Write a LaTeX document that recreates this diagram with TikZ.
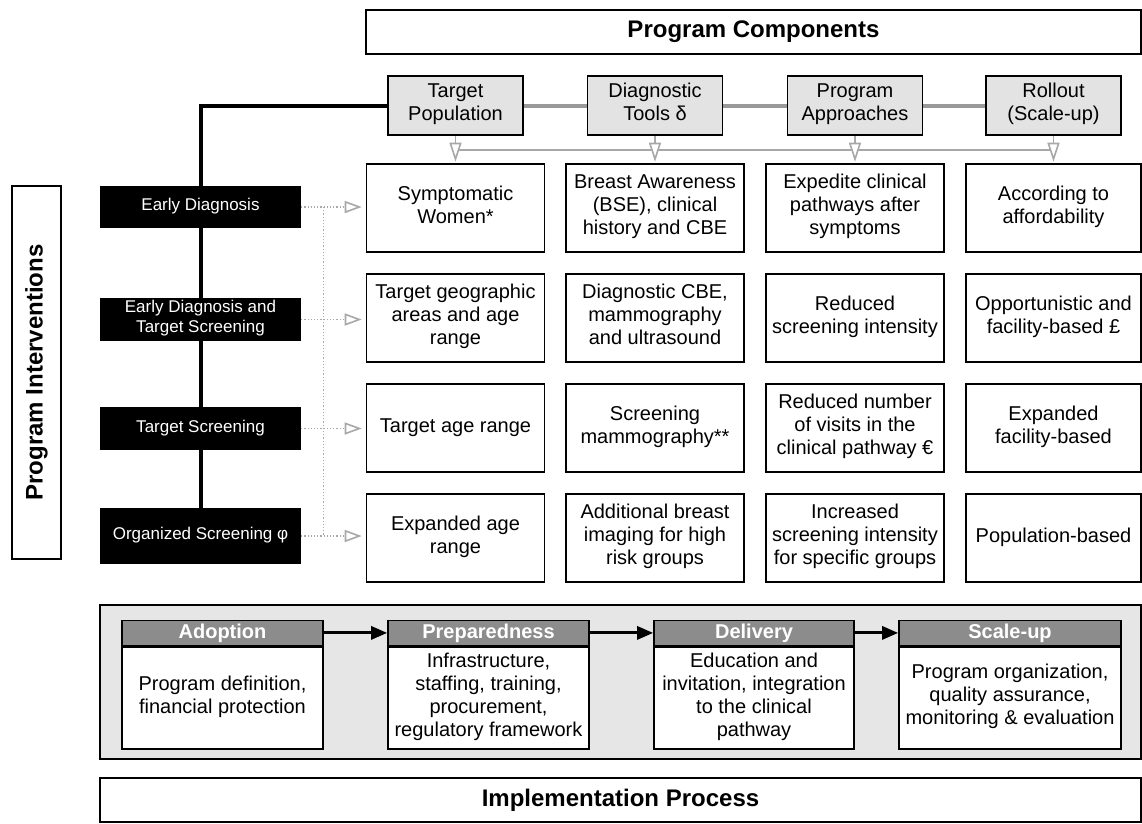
\documentclass[tikz,border=0pt]{standalone}
\usepackage{fontspec}
\setmainfont{Liberation Sans}
\usetikzlibrary{arrows.meta,positioning}

\definecolor{hdrgray}{HTML}{E3E3E3}
\definecolor{panelgray}{HTML}{E6E6E6}
\definecolor{stagegray}{HTML}{8C8C8C}
\definecolor{linegray}{HTML}{9A9A9A}
\definecolor{tipgray}{HTML}{A8A8A8}

\tikzset{
    strutted/.style={execute at begin node=\strut, execute at end node=\strut},
    titlebox/.style={draw, line width=1.6pt, inner sep=0pt, font=\fontsize{24}{28}\selectfont\bfseries},
    compbox/.style={strutted, draw, line width=1.6pt, fill=hdrgray, minimum width=135pt, minimum height=59pt,
        align=center, inner sep=0pt, font=\fontsize{20}{23}\selectfont},
    cellbox/.style={strutted, draw, line width=1.6pt, minimum width=178pt, minimum height=88pt,
        align=center, inner sep=0pt, font=\fontsize{20}{23}\selectfont},
    interbox/.style={strutted, fill=black, text=white, minimum width=201pt, align=center, inner sep=0pt,
        font=\fontsize{17}{19.5}\selectfont},
    stagebox/.style={strutted, draw, line width=1.6pt, fill=white, minimum height=102pt, align=center,
        inner sep=0pt, font=\fontsize{20}{23}\selectfont},
    stagehead/.style={draw, line width=1.6pt, fill=stagegray, text=white, minimum height=25pt,
        inner sep=0pt, font=\fontsize{20}{23}\selectfont\bfseries},
    compline/.style={draw=linegray, line width=4pt},
    tipline/.style={draw=tipgray, line width=1.6pt},
    comparrow/.style={tipline, -{Triangle[length=19pt, width=12pt, fill=white]}, shorten >=1.5pt},
    dotline/.style={draw=tipgray, line width=1.2pt, dotted},
    dotarrow/.style={dotline, -{Triangle[length=17pt, width=12pt, fill=white, line width=1.6pt]}, shorten >=4pt},
    flowarrow/.style={line width=3pt, -{Triangle[length=16pt, width=13pt]}}
}

\begin{document}
\begin{tikzpicture}[x=1pt, y=-1pt]
        \useasboundingbox (0,0) rectangle (1142,823);
        % 标题
        \node[titlebox, minimum width=775pt, minimum height=44pt] (pc) at (753.5,32) {Program Components};
        \node[titlebox, rotate=90, minimum width=373pt, minimum height=49pt] (pi) at (36.5,372.5) {Program Interventions};

        % 组成部分
        \node[compbox] (tp) at (455.5,105.5) {Target\\Population};
        \node[compbox] (dt) at (655,105.5) {Diagnostic\\Tools δ};
        \node[compbox] (pa) at (855,105.5) {Program\\Approaches};
        \node[compbox] (ro) at (1053.5,105.5) {Rollout\\(Scale-up)};
        \draw[compline] (tp) -- (dt);
        \draw[compline] (dt) -- (pa);
        \draw[compline] (pa) -- (ro);

        % 干预措施
        \node[interbox, minimum height=42pt] (ed) at (200.5,207) {Early Diagnosis};
        \node[interbox, minimum height=43pt] (edts) at (200.5,319.5) {Early Diagnosis and\\Target Screening};
        \node[interbox, minimum height=43pt] (ts) at (200.5,428.5) {Target Screening};
        \node[interbox, minimum height=56pt] (os) at (200.5,536) {Organized Screening φ};
        \draw[line width=4pt] (tp.west) -| (ed.north);
        \draw[line width=4pt] (ed.south) -- (edts.north);
        \draw[line width=4pt] (edts.south) -- (ts.north);
        \draw[line width=4pt] (ts.south) -- (os.north);

        % 表格
        \node[cellbox] (r1c1) at (455.5,208) {Symptomatic\\Women*};
        \node[cellbox] (r1c2) at (655,208) {Breast Awareness\\(BSE), clinical\\history and CBE};
        \node[cellbox] (r1c3) at (855,208) {Expedite clinical\\pathways after\\symptoms};
        \node[cellbox, minimum width=175pt] (r1c4) at (1053.5,208) {According to\\affordability};

        \node[cellbox] (r2c1) at (455.5,318) {Target geographic\\areas and age\\range};
        \node[cellbox] (r2c2) at (655,318) {Diagnostic CBE,\\mammography\\and ultrasound};
        \node[cellbox] (r2c3) at (855,318) {Reduced\\screening intensity};
        \node[cellbox, minimum width=175pt] (r2c4) at (1053.5,318) {Opportunistic and\\facility-based £};

        \node[cellbox] (r3c1) at (455.5,428) {Target age range};
        \node[cellbox] (r3c2) at (655,428) {Screening\\mammography**};
        \node[cellbox] (r3c3) at (855,428) {Reduced number\\of visits in the\\clinical pathway €};
        \node[cellbox, minimum width=175pt] (r3c4) at (1053.5,428) {Expanded\\facility-based};

        \node[cellbox] (r4c1) at (455.5,538) {Expanded age\\range};
        \node[cellbox] (r4c2) at (655,538) {Additional breast\\imaging for high\\risk groups};
        \node[cellbox] (r4c3) at (855,538) {Increased\\screening intensity\\for specific groups};
        \node[cellbox, minimum width=175pt] (r4c4) at (1053.5,538) {Population-based};

        % 箭头
        \draw[tipline] ([yshift=-14pt]tp.south) -- ([yshift=-14pt]ro.south);
        \draw[comparrow] (tp) -- (r1c1);
        \draw[comparrow] (dt) -- (r1c2);
        \draw[comparrow] (pa) -- (r1c3);
        \draw[comparrow] (ro) -- (r1c4);

        \draw[dotline] ([xshift=22pt]ed.east) -- ([xshift=22pt]os.east);
        \draw[dotarrow] (ed.east) -- (ed.east -| r1c1.west);
        \draw[dotarrow] (edts.east) -- (edts.east -| r2c1.west);
        \draw[dotarrow] (ts.east) -- (ts.east -| r3c1.west);
        \draw[dotarrow] (os.east) -- (os.east -| r4c1.west);

        % 实施过程
        \node[draw, line width=1.6pt, fill=panelgray, minimum width=1041pt, minimum height=154pt] (panel) at (620.5,682) {};
        \node[stagebox, minimum width=201pt] (adopt) at (222.5,698) {Program definition,\\financial protection};
        \node[stagebox, minimum width=201pt] (prep) at (488.5,698) {Infrastructure,\\staffing, training,\\procurement,\\regulatory framework};
        \node[stagebox, minimum width=200pt] (deliv) at (754,698) {Education and\\invitation, integration\\to the clinical\\pathway};
        \node[stagebox, minimum width=222pt] (scale) at (1010,698) {Program organization,\\quality assurance,\\monitoring \& evaluation};
        \node[stagehead, minimum width=201pt, above=0pt of adopt] (adopth) {Adoption};
        \node[stagehead, minimum width=201pt, above=0pt of prep] (preph) {Preparedness};
        \node[stagehead, minimum width=200pt, above=0pt of deliv] (delivh) {Delivery};
        \node[stagehead, minimum width=222pt, above=0pt of scale] (scaleh) {Scale-up};
        \draw[flowarrow] (adopth) -- (preph);
        \draw[flowarrow] (preph) -- (delivh);
        \draw[flowarrow] (delivh) -- (scaleh);

        \node[titlebox, minimum width=1041pt, minimum height=44pt] (ip) at (620.5,800) {Implementation Process};
    \end{tikzpicture}
\end{document}
